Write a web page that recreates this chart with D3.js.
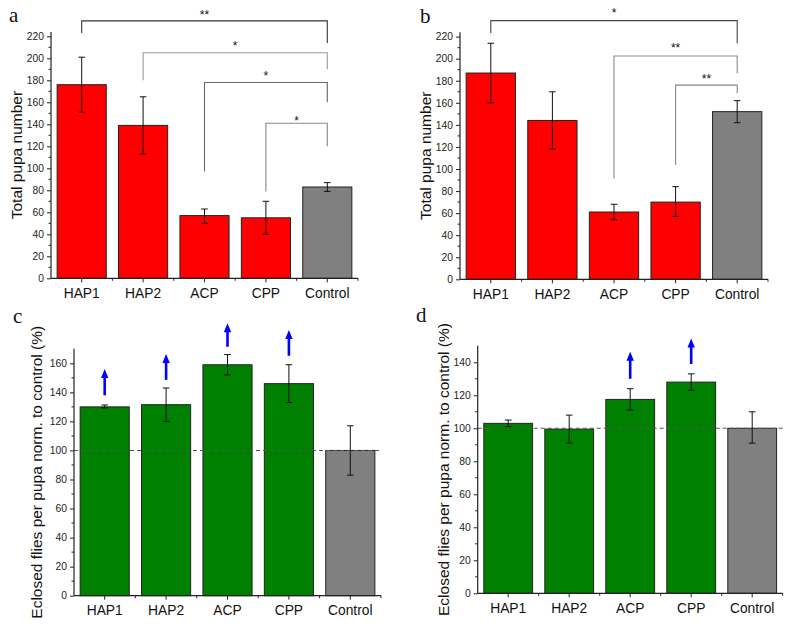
<!DOCTYPE html>
<html>
<head>
<meta charset="utf-8">
<script src="https://cdn.jsdelivr.net/npm/d3@7"></script>
<style>
html,body{margin:0;padding:0;background:#fff;}
svg{display:block;}
</style>
</head>
<body>
<svg id="chart" width="796" height="625"></svg>
<script>
// ---------------- DATA ----------------
const categories = ["HAP1", "HAP2", "ACP", "CPP", "Control"];

// Panel a: total pupa number
const aValues = [176, 139, 57, 55, 83];
const aErrLow = [151, 113, 50, 40, 79];
const aErrHigh = [201, 165, 63, 70, 87];
const aTicks = [0, 20, 40, 60, 80, 100, 120, 140, 160, 180, 200, 220];
// brackets: from, to, top, left end, right end, label, star centre value
const aBrackets = [
  ["HAP1", "Control", 234, 223, 214, "**", 242],
  ["HAP2", "Control", 205, 180, 190, "*", 214],
  ["ACP", "Control", 178, 97, 160, "*", 187],
  ["CPP", "Control", 141, 79, 120, "*", 146]
];

// Panel b: total pupa number
const bValues = [187, 144, 61, 70, 152];
const bErrLow = [160, 118, 54, 57, 142];
const bErrHigh = [214, 170, 68, 84, 162];
const bTicks = [0, 20, 40, 60, 80, 100, 120, 140, 160, 180, 200, 220];
const bBrackets = [
  ["HAP1", "Control", 234.5, 223, 214, "*", 244],
  ["ACP", "Control", 202.5, 91.5, 186.7, "**", 212],
  ["CPP", "Control", 176, 103.6, 168.6, "**", 184]
];

// Panel c: eclosed flies per pupa normalised to control (%)
const cValues = [130, 131.5, 159, 146, 100];
const cErrLow = [129.3, 120, 152, 133, 83];
const cErrHigh = [131.3, 143, 166, 159, 117];
const cTicks = [0, 20, 40, 60, 80, 100, 120, 140, 160];
const cArrows = [[138, 156], [148.6, 166.4], [171.4, 187.5], [165.2, 183], null];

// Panel d
const dValues = [103, 99.5, 117.5, 128, 100];
const dErrLow = [101, 91, 111, 123, 91];
const dErrHigh = [105, 108, 124, 133, 110];
const dTicks = [0, 20, 40, 60, 80, 100, 120, 140];
const dArrows = [null, null, [130, 146.4], [139, 154.5], null];

const treatColorsAB = ["#ff0000", "#ff0000", "#ff0000", "#ff0000", "#808080"];
const treatColorsCD = ["#008000", "#008000", "#008000", "#008000", "#808080"];
const bracketColorsA = ["#333", "#999", "#666", "#888"];
const bracketColorsB = ["#444", "#888", "#888"];

// ---------------- DRAW ----------------
const svg = d3.select("#chart");
const SANS = "'Liberation Sans', Arial, sans-serif";

function drawPanel(p) {
  const g = svg.append("g");
  const x = d3.scaleBand().domain(categories).range([p.x0, p.x1])
    .paddingInner(0.2).paddingOuter(0.1);
  const y = d3.scaleLinear().domain([0, p.ymax]).range([p.yb, p.yb - p.ymax * p.ppu]);

  // bars
  g.selectAll("rect.bar").data(p.values).enter().append("rect")
    .attr("x", (d, i) => x(categories[i]))
    .attr("y", d => y(d))
    .attr("width", x.bandwidth())
    .attr("height", d => y(0) - y(d))
    .attr("fill", (d, i) => p.colors[i])
    .attr("stroke", "#222").attr("stroke-width", 1);

  // dashed reference
  if (p.refLine != null) {
    g.append("line").attr("x1", p.x0).attr("x2", p.x1)
      .attr("y1", y(p.refLine)).attr("y2", y(p.refLine))
      .attr("stroke", "#555").attr("stroke-width", 1.1).attr("stroke-dasharray", "4,3");
  }

  // error bars
  const cap = 3.3;
  p.values.forEach((v, i) => {
    const cx = x(categories[i]) + x.bandwidth() / 2;
    const lo = p.errLow[i], hi = p.errHigh[i];
    g.append("line").attr("x1", cx).attr("x2", cx).attr("y1", y(lo)).attr("y2", y(hi))
      .attr("stroke", "#111").attr("stroke-width", 1);
    [lo, hi].forEach(e => g.append("line").attr("x1", cx - cap).attr("x2", cx + cap)
      .attr("y1", y(e)).attr("y2", y(e)).attr("stroke", "#111").attr("stroke-width", 1));
  });

  // y axis
  const yAxis = d3.axisLeft(y).tickValues(p.ticks).tickSize(4).tickPadding(3);
  const ya = g.append("g").attr("transform", `translate(${p.x0},0)`).call(yAxis);
  ya.select(".domain").attr("d", `M0,${y(0)}V${y(p.ymax)}`).attr("stroke", "#222").attr("stroke-width", 1.2);
  ya.selectAll(".tick line").attr("stroke", "#222");
  ya.selectAll(".tick text").attr("font-family", SANS)
    .attr("font-size", 10.3).attr("fill", "#222");
  // minor y ticks
  const minors = d3.range(10, p.ymax, 20);
  ya.selectAll("line.minor").data(minors).enter().append("line")
    .attr("x1", -2.5).attr("x2", 0).attr("y1", d => y(d)).attr("y2", d => y(d))
    .attr("stroke", "#222");

  // x axis
  const xa = g.append("g").attr("transform", `translate(0,${y(0)})`);
  xa.append("line").attr("x1", p.x0).attr("x2", p.x1).attr("y1", 0).attr("y2", 0)
    .attr("stroke", "#222").attr("stroke-width", 1.2);
  categories.forEach((c, i) => {
    const cx = x(c) + x.bandwidth() / 2;
    xa.append("line").attr("x1", cx).attr("x2", cx).attr("y1", 0).attr("y2", 4).attr("stroke", "#222");
    xa.append("text").attr("x", cx).attr("y", 19.6).attr("text-anchor", "middle")
      .attr("font-family", SANS).attr("font-size", 13.8)
      .attr("fill", "#111").text(c);
  });
  const step = x.step();
  d3.range(1, categories.length + 1).forEach(k => {
    const bx = x(categories[0]) - step * 0.1 + k * step;
    xa.append("line").attr("x1", bx).attr("x2", bx)
      .attr("y1", 0).attr("y2", 2.5).attr("stroke", "#222");
  });

  // y title
  g.append("text")
    .attr("transform", `translate(${p.titleX},${(y(0) + y(p.ymax)) / 2}) rotate(-90)`)
    .attr("text-anchor", "middle")
    .attr("font-family", SANS).attr("font-size", 15.5)
    .attr("fill", "#111").text(p.title);

  // panel letter
  g.append("text").attr("x", p.letterX).attr("y", p.letterY)
    .attr("font-family", "'Liberation Serif', 'Times New Roman', serif").attr("font-size", 21)
    .attr("fill", "#111").text(p.letter);

  // brackets
  if (p.brackets) {
    p.brackets.forEach((b, k) => {
      const xl = x(b[0]) + x.bandwidth() / 2;
      const xr = x(b[1]) + x.bandwidth() / 2;
      const path = d3.path();
      path.moveTo(xl, y(b[3]));
      path.lineTo(xl, y(b[2]));
      path.lineTo(xr, y(b[2]));
      path.lineTo(xr, y(b[4]));
      g.append("path").attr("d", path.toString()).attr("fill", "none")
        .attr("stroke", p.bracketColors[k]).attr("stroke-width", 1.1);
      g.append("text").attr("x", (xl + xr) / 2).attr("y", y(b[6]) + 7)
        .attr("text-anchor", "middle")
        .attr("font-family", SANS).attr("font-size", 12)
        .attr("fill", "#111").text(b[5]);
    });
  }

  // arrows
  if (p.arrows) {
    p.arrows.forEach((a, i) => {
      if (!a) return;
      const cx = x(categories[i]) + x.bandwidth() / 2;
      const y0 = y(a[0]), y1 = y(a[1]);
      const head = 9;
      g.append("line").attr("x1", cx).attr("x2", cx).attr("y1", y0).attr("y2", y1 + head - 1)
        .attr("stroke", "#0000ff").attr("stroke-width", 2.6);
      g.append("path")
        .attr("d", `M${cx},${y1}L${cx - 3.7},${y1 + head}L${cx + 3.7},${y1 + head}Z`)
        .attr("fill", "#0000ff");
    });
  }
}

drawPanel({x0: 51, x1: 358, yb: 278.3, ppu: 1.1, ymax: 224, ticks: aTicks,
  values: aValues, errLow: aErrLow, errHigh: aErrHigh, colors: treatColorsAB,
  brackets: aBrackets, bracketColors: bracketColorsA,
  title: "Total pupa number", titleX: 21.5, letter: "a", letterX: 9, letterY: 22});

drawPanel({x0: 460, x1: 768, yb: 279.3, ppu: 1.103, ymax: 224, ticks: bTicks,
  values: bValues, errLow: bErrLow, errHigh: bErrHigh, colors: treatColorsAB,
  brackets: bBrackets, bracketColors: bracketColorsB,
  title: "Total pupa number", titleX: 431, letter: "b", letterX: 420, letterY: 23});

drawPanel({x0: 74, x1: 381, yb: 595.7, ppu: 1.4525, ymax: 170, ticks: cTicks,
  values: cValues, errLow: cErrLow, errHigh: cErrHigh, colors: treatColorsCD,
  refLine: 100, arrows: cArrows,
  title: "Eclosed flies per pupa norm. to control (%)", titleX: 42, letter: "c", letterX: 13, letterY: 323});

drawPanel({x0: 477.7, x1: 782.7, yb: 593.3, ppu: 1.65, ymax: 150, ticks: dTicks,
  values: dValues, errLow: dErrLow, errHigh: dErrHigh, colors: treatColorsCD,
  refLine: 100, arrows: dArrows,
  title: "Eclosed flies per pupa norm. to control (%)", titleX: 449, letter: "d", letterX: 416, letterY: 322});
</script>
</body>
</html>
